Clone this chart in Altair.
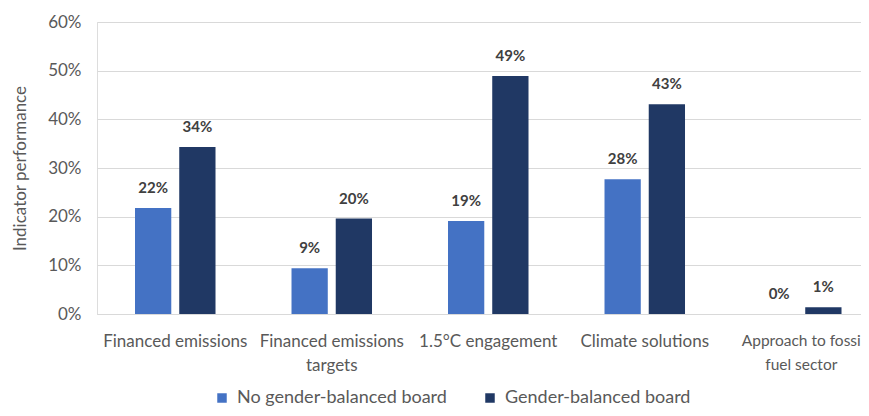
import altair as alt
import pandas as pd

categories = ["Financed emissions", "Financed emissions targets", "1.5°C engagement",
              "Climate solutions", "Approach to fossi fuel sector"]
label_lines = [["Financed emissions"], ["Financed emissions", "targets"], ["1.5°C engagement"],
               ["Climate solutions"], ["Approach to fossi", "fuel sector"]]
series = ["No gender-balanced board", "Gender-balanced board"]
no_balanced = [0.218, 0.094, 0.191, 0.277, 0.0]
balanced = [0.343, 0.196, 0.489, 0.431, 0.014]
colors = ["#4472C4", "#203864"]

rows = []
for c, a, b in zip(categories, no_balanced, balanced):
    rows.append({"category": c, "series": series[0], "value": a})
    rows.append({"category": c, "series": series[1], "value": b})
df = pd.DataFrame(rows)

# build label expression for multi-line category labels
expr = "datum.label"
for c, lines in zip(categories, label_lines):
    if len(lines) > 1:
        arr = "[" + ",".join("'" + l + "'" for l in lines) + "]"
        expr = f"datum.label == '{c}' ? {arr} : ({expr})"

FONT = "Lato"
GRAY = "#595959"

x = alt.X("category:N", sort=categories, title=None,
          scale=alt.Scale(paddingInner=0.4856, paddingOuter=0.1837, align=0.661),
          axis=alt.Axis(labelAngle=0, labelExpr=expr, labelFont=FONT,
                        labelFontSize={"condition": {"test": f"datum.value == '{categories[-1]}'",
                                                     "value": 15.5},
                                       "value": 17},
                        labelColor=GRAY, ticks=False, domain=True, domainColor="#d9d9d9",
                        labelPadding=19, labelLimit=300, labelLineHeight=24,
                        labelOverlap=False))
xo = alt.XOffset("series:N", sort=series,
                 scale=alt.Scale(paddingInner=0.18, paddingOuter=0))
y = alt.Y("value:Q", title="Indicator performance",
          scale=alt.Scale(domain=[0, 0.6]),
          axis=alt.Axis(format=".0%", values=[0, 0.1, 0.2, 0.3, 0.4, 0.5, 0.6],
                        labelFont=FONT, labelFontSize=17, labelColor=GRAY,
                        titleFont=FONT, titleFontSize=17, titleColor=GRAY,
                        titleFontWeight="normal", titlePadding=18,
                        ticks=False, domain=False, gridColor="#d9d9d9",
                        labelPadding=16))
color = alt.Color("series:N", sort=series,
                  scale=alt.Scale(domain=series, range=colors),
                  legend=alt.Legend(title=None, orient="none", direction="horizontal",
                                    legendX=116, legendY=367, symbolType="square",
                                    symbolSize=90, symbolStrokeWidth=0,
                                    labelFont=FONT, labelFontSize=18, labelColor=GRAY,
                                    labelLimit=400, columnPadding=34, labelOffset=6))

bars = alt.Chart(df).mark_bar().encode(x=x, xOffset=xo, y=y, color=color)
text = alt.Chart(df).mark_text(dy=-12, baseline="bottom", font=FONT, fontSize=15,
                               fontWeight="bold", color="#404040").encode(
    x=x, xOffset=xo, y=y, text=alt.Text("value:Q", format=".0%"))

chart = (bars + text).properties(
    width=764, height=292,
    autosize=alt.AutoSizeParams(type="none"),
    padding={"left": 89, "top": 14, "right": 0, "bottom": 94},
).configure_view(stroke=None).configure(background="white")

chart.save("out.html", embed_options={"renderer": "svg", "actions": False})
